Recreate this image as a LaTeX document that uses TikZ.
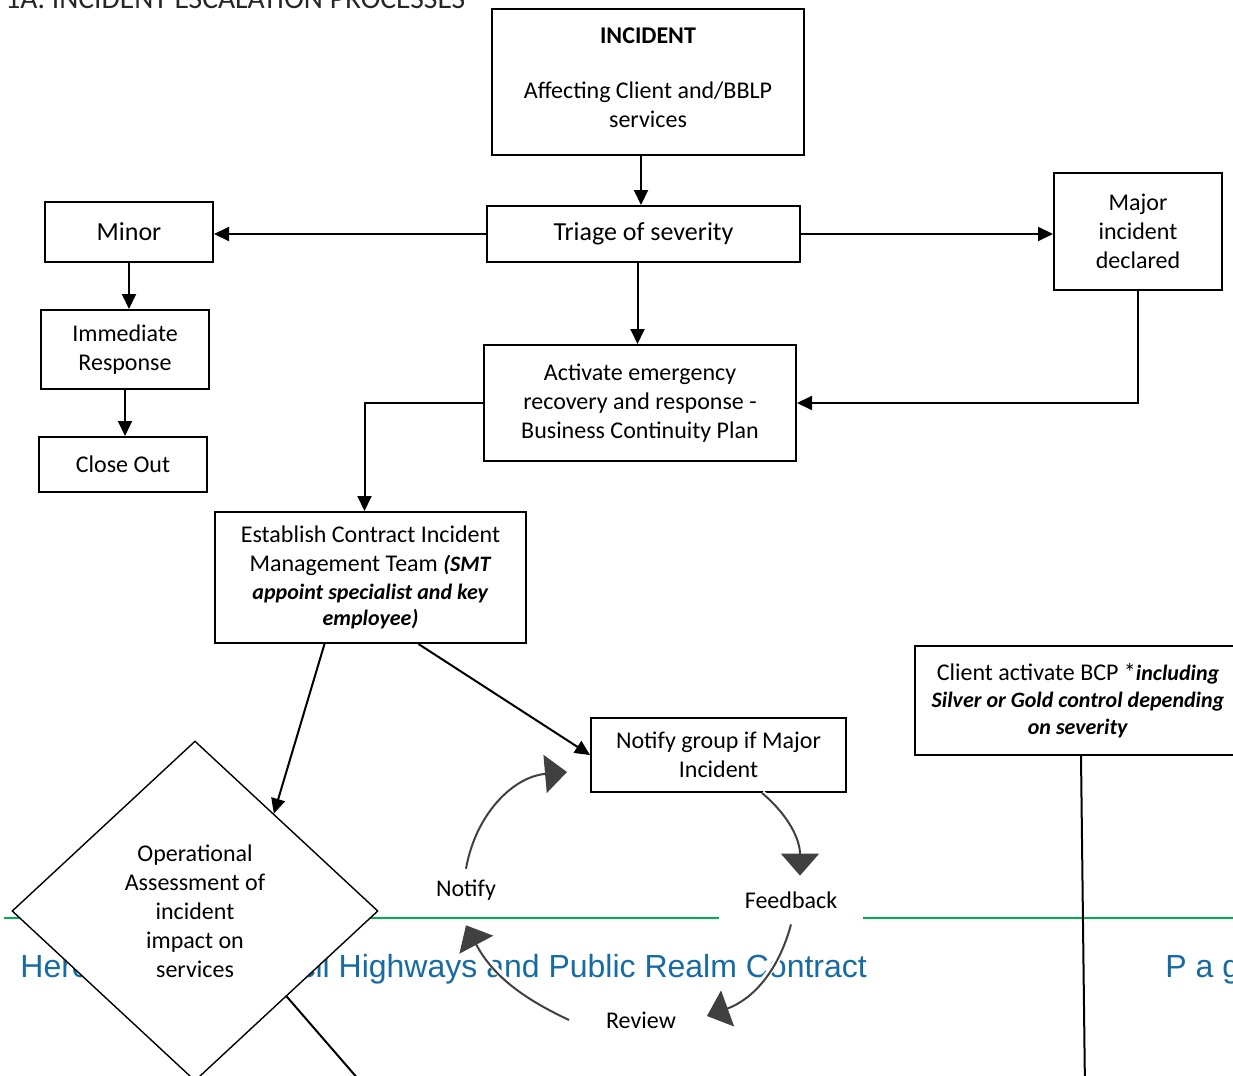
\documentclass[tikz,border=0pt]{standalone}
\usepackage{fontspec}
\setmainfont{Carlito}
\newfontfamily\footfont{Liberation Sans}
\usetikzlibrary{shapes.geometric,arrows.meta}

\definecolor{footblue}{RGB}{23,107,163}
\definecolor{footgreen}{RGB}{0,176,80}
\definecolor{cycgray}{RGB}{64,64,64}
\definecolor{titlegray}{RGB}{38,38,38}

\newcommand{\bfit}[1]{{\fontsize{11}{13}\selectfont\textbf{\textit{#1}}}}

\begin{document}
\begin{tikzpicture}[x=0.5pt, y=0.5pt,
  box/.style = {draw, line width=1pt, fill=white, align=center, inner sep=2pt, font=\fontsize{12}{14.5}\selectfont},
  arr/.style = {line width=1pt, -{Triangle[length=7.5pt,width=7pt]}},
  lbl/.style = {fill=white, font=\fontsize{12}{14.5}\selectfont},
  cyc/.style = {draw=cycgray, line width=1pt, -{Triangle[length=11pt,width=19pt]}, preaction={draw=white, line width=3pt, -}}]

\useasboundingbox (0,0) rectangle (1233,-1076);

% page title and footer
\node[anchor=base west, inner sep=0, text=titlegray, font=\fontsize{14.8}{17}\selectfont] (title) at (5,-9) {1A. INCIDENT ESCALATION PROCESSES};

\coordinate (rulel) at (4,-918);
\coordinate (ruler) at (1233,-918);
\draw[footgreen, line width=1pt] (rulel) -- (ruler);

\node[anchor=base west, inner sep=0, text=footblue, font={\footfont\fontsize{16}{19}\selectfont}] (foot) at (20,-977) {Herefordshire Council Highways and Public Realm Contract};
\node[anchor=base west, inner sep=0, text=footblue, font={\footfont\fontsize{16}{19}\selectfont}] (page) at (1165,-977) {P a g};


\node[box, minimum width=156pt, minimum height=73pt, text depth=4pt] (inc) at (648,-82) {\textbf{INCIDENT}\\[13pt]Affecting Client and/BBLP\\services};
\node[box, minimum width=156.5pt, minimum height=28pt, font=\fontsize{13}{15.5}\selectfont] (tri) at (643.5,-234) {Triage of severity};
\node[box, minimum width=84pt, minimum height=30pt, font=\fontsize{13}{15.5}\selectfont] (minor) at (129,-232) {Minor};
\node[box, minimum width=84pt, minimum height=58.5pt] (major) at (1138,-231.5) {Major\\incident\\declared};

\node[box, minimum width=84pt, minimum height=39.5pt] (imm) at (125,-349.5) {Immediate\\Response};
\node[box, minimum width=84pt, minimum height=27.5pt] (close) at (123,-464.5) {Close Out};

\node[box, minimum width=156pt, minimum height=58pt] (act) at (640,-403) {Activate emergency\\recovery and response -\\Business Continuity Plan};
\node[box, minimum width=155.5pt, minimum height=65.5pt] (est) at (370.5,-577.5) {Establish Contract Incident\\Management Team \bfit{(SMT}\\[-0.5pt]\bfit{appoint specialist and key}\\[-1.5pt]\bfit{employee)}};

\node[box, minimum width=127.5pt, minimum height=37pt] (ngrp) at (718.5,-755) {Notify group if Major\\Incident};
\node[box, minimum width=163pt, minimum height=54.5pt, font=\fontsize{12}{13.5}\selectfont] (client) at (1078,-700.5) {Client activate BCP *\bfit{including}\\\bfit{Silver or Gold control depending}\\\bfit{on severity}};

\node[box, diamond, line width=0.7pt, minimum width=183pt, minimum height=170pt, inner sep=0pt] (diam) at (195,-911) {Operational\\Assessment of\\incident\\impact on\\services};

\coordinate (dout) at (372,-1095);
\coordinate (cend) at (1085,-1090);


\draw[arr] ([xshift=-3.5pt]inc.south) -- ([xshift=-3.5pt]inc.south |- tri.north);
\draw[arr] (tri.west) -- (tri.west -| minor.east);
\draw[arr] (tri.east) -- (tri.east -| major.west);
\draw[arr] (minor.south) -- (minor.south |- imm.north);
\draw[arr] (imm.south) -- (imm.south |- close.north);
\draw[arr] ([xshift=-3pt]tri.south) -- ([xshift=-3pt]tri.south |- act.north);
\draw[arr] (major.south) |- (act.east);
\draw[arr] (act.west) -| ([xshift=-3pt]est.north);

\draw[arr] ([xshift=-23pt]est.south) -- (diam.51);
\draw[arr] ([xshift=24pt]est.south) -- (ngrp.west);
\draw[line width=1pt] (diam.-43) -- (dout);
\draw[line width=1pt] ([xshift=1.5pt]client.south) -- (cend);

% review cycle
\node[lbl] (notif) at (466,-890) {Notify};
\node[lbl, minimum width=72pt, minimum height=24pt] (feed) at (791,-900) {Feedback};
\node[lbl] (rev) at (641,-1020) {Review};

\draw[cyc] ([yshift=2pt]notif.north) to[out=80, in=185] ([shift={(-11.5pt,-8.5pt)}]ngrp.west);
\draw[cyc] ([xshift=21.75pt]ngrp.south) to[out=-40, in=90] ([xshift=4.5pt]feed.north);
\draw[cyc] (feed.south) to[out=-105, in=20] ([shift={(12pt,2pt)}]rev.east);
\draw[cyc] ([xshift=-15pt]rev.west) to[out=155, in=-62] ([yshift=-9pt]notif.south);

\end{tikzpicture}
\end{document}
